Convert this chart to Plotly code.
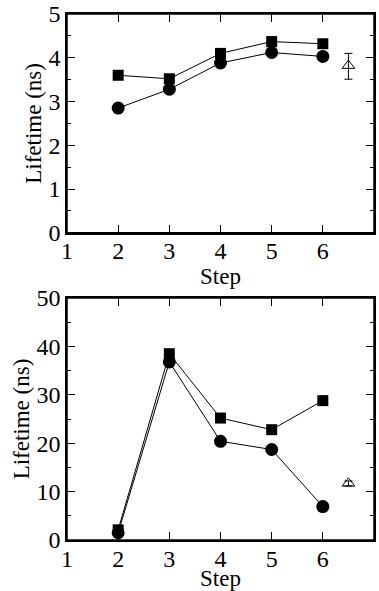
import plotly.graph_objects as go
from plotly.subplots import make_subplots

steps = [2, 3, 4, 5, 6]
top_square = [3.60, 3.52, 4.10, 4.37, 4.32]
top_circle = [2.85, 3.28, 3.88, 4.12, 4.03]
top_ref_x = [6.5]
top_ref_y = [3.82]
top_ref_err_plus = [0.28]
top_ref_err_minus = [0.31]

bot_square = [2.1, 38.5, 25.2, 22.8, 28.8]
bot_circle = [1.5, 36.8, 20.4, 18.7, 6.9]
bot_ref_x = [6.5]
bot_ref_y = [11.7]
bot_ref_err = [0.5]

x_ticks = [1, 2, 3, 4, 5, 6, 7]
top_y_ticks = [0, 1, 2, 3, 4, 5]
top_y_minor = [0.5, 1.5, 2.5, 3.5, 4.5]
bot_y_ticks = [0, 10, 20, 30, 40, 50]
bot_y_minor = [5, 15, 25, 35, 45]

fig = make_subplots(rows=2, cols=1, vertical_spacing=0.124)

def add_panel(row, sq, ci, rx, ry, ep, em):
    fig.add_trace(go.Scatter(x=steps, y=sq, mode="lines+markers",
                             line=dict(color="black", width=1),
                             marker=dict(symbol="square", size=11, color="black"),
                             showlegend=False, cliponaxis=False), row=row, col=1)
    fig.add_trace(go.Scatter(x=steps, y=ci, mode="lines+markers",
                             line=dict(color="black", width=1),
                             marker=dict(symbol="circle", size=13, color="black"),
                             showlegend=False, cliponaxis=False), row=row, col=1)
    fig.add_trace(go.Scatter(x=rx, y=ry, mode="markers",
                             marker=dict(symbol="triangle-up-open", size=11, color="black",
                                         line=dict(width=1)),
                             error_y=dict(type="data", array=ep, arrayminus=em,
                                          color="black", thickness=1, width=4, visible=True),
                             showlegend=False), row=row, col=1)

add_panel(1, top_square, top_circle, top_ref_x, top_ref_y, top_ref_err_plus, top_ref_err_minus)
add_panel(2, bot_square, bot_circle, bot_ref_x, bot_ref_y, bot_ref_err, bot_ref_err)

font_family = "Liberation Serif"
tick_font = dict(family=font_family, size=24, color="black")
title_font = dict(family=font_family, size=23, color="black")
axis_common = dict(showline=True, linecolor="black", linewidth=1.5, mirror="ticks",
                   ticks="inside", ticklen=8, tickwidth=1, tickcolor="black",
                   showgrid=False, zeroline=False, automargin=False, tickfont=tick_font)

for r in (1, 2):
    fig.update_xaxes(range=[1, 7], tickvals=x_ticks,
                     title=dict(text="Step", font=title_font, standoff=0),
                     ticklabelstandoff=-4,
                     **axis_common, row=r, col=1)

fig.update_yaxes(range=[0, 5], tickvals=top_y_ticks,
                 minor=dict(tickvals=top_y_minor, ticks="inside", ticklen=4,
                            tickcolor="black", tickwidth=1),
                 title=dict(text="Lifetime (ns)", font=title_font, standoff=0),
                 **axis_common, row=1, col=1)
fig.update_yaxes(range=[0, 50], tickvals=bot_y_ticks,
                 minor=dict(tickvals=bot_y_minor, ticks="inside", ticklen=4,
                            tickcolor="black", tickwidth=1),
                 title=dict(text="Lifetime (ns)", font=title_font, standoff=0),
                 **axis_common, row=2, col=1)

# frame around both plot areas
for xr, yr in (("x domain", "y domain"), ("x2 domain", "y2 domain")):
    fig.add_shape(type="rect", xref=xr, yref=yr, x0=0, x1=1, y0=0, y1=1,
                  line=dict(color="black", width=1.5), layer="above")

fig.update_layout(width=379, height=591, margin=dict(l=67, r=5, t=14, b=51, autoexpand=False),
                  plot_bgcolor="white", paper_bgcolor="white",
                  font=dict(family=font_family, color="black"))
fig.update_layout(yaxis=dict(domain=[0.584, 1.0]), yaxis2=dict(domain=[0.0, 0.46]))

fig.write_html("out.html", config={"displayModeBar": False},
               post_script="document.body.style.margin='0';document.body.style.overflow='hidden';")
